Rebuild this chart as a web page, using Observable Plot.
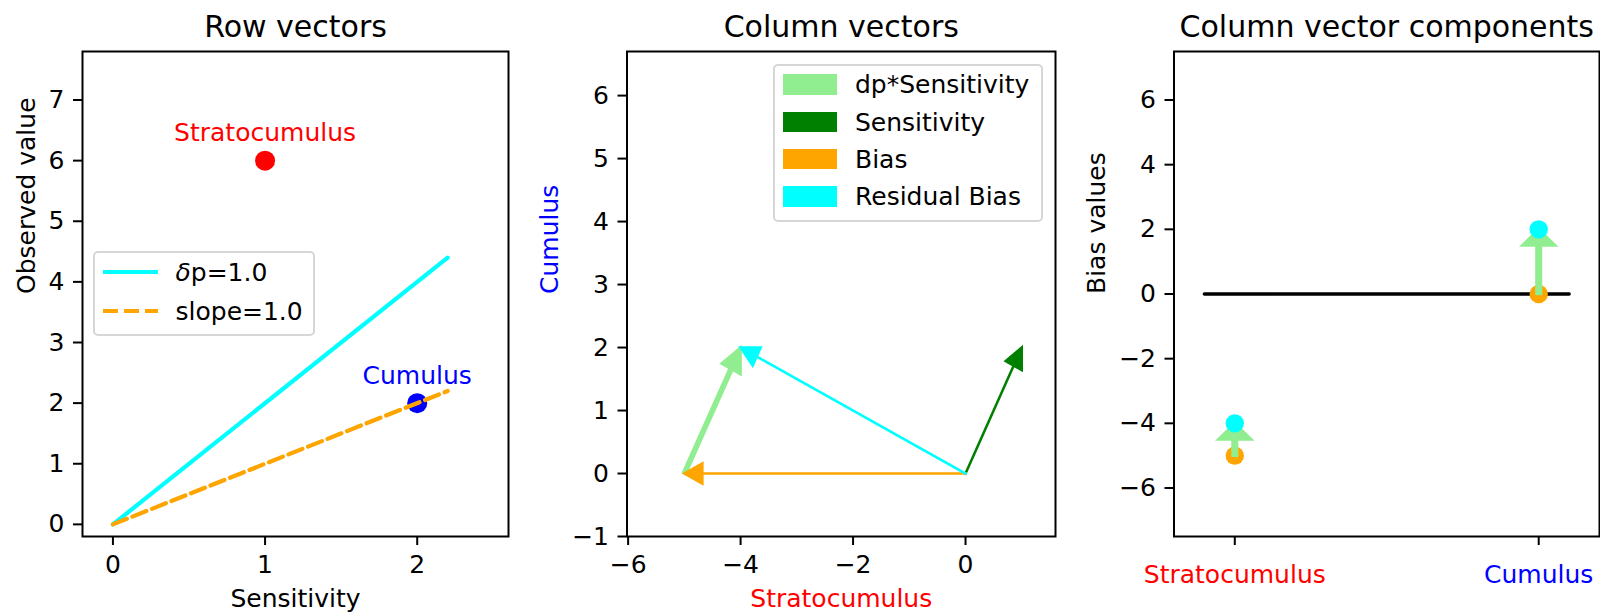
<!DOCTYPE html>
<html>
<head>
<meta charset="utf-8">
<script src="https://cdn.jsdelivr.net/npm/d3@7"></script>
<script src="https://cdn.jsdelivr.net/npm/@observablehq/plot@0.6"></script>
<style>
  html, body { margin: 0; padding: 0; background: #fff; }
  #root { position: relative; width: 1600px; height: 613px; overflow: hidden; font-family: "DejaVu Sans", sans-serif; color: #000; }
  .legend { position: absolute; box-sizing: border-box; border: 2px solid #d6d6d6; border-radius: 5px; background: rgba(255,255,255,0.8); }
  .lg-text { position: absolute; font-size: 25px; line-height: 25px; white-space: nowrap; }
  .lg-patch { position: absolute; }
  .lg-line { position: absolute; overflow: visible; }
</style>
</head>
<body>
<div id="root"></div>
<script>
// ---------------- DATA ----------------
// Panel 1: Row vectors
const cloudNames = ["Stratocumulus", "Cumulus"];
const cloudColors = ["red", "blue"];
const cloudSensitivity = [1, 2];
const cloudObserved = [6, 2];
const lineX = [0, 2.2];
const deltaPLineY = [0, 4.4];
const slopeLineY = [0, 2.2];
const p1XTicks = [0, 1, 2];
const p1YTicks = [0, 1, 2, 3, 4, 5, 6, 7];

// Panel 2: Column vectors (start point and components)
const vectorNames = ["dp*Sensitivity", "Sensitivity", "Bias", "Residual Bias"];
const vectorColors = ["lightgreen", "green", "orange", "cyan"];
const vectorStartX = [-5, 0, 0, 0];
const vectorStartY = [0, 0, 0, 0];
const vectorDX = [1, 1, -5, -4];
const vectorDY = [2, 2, 0, 2];
const p2XTicks = [-6, -4, -2, 0];
const p2YTicks = [-1, 0, 1, 2, 3, 4, 5, 6];

// Panel 3: Column vector components
const compCategories = ["Stratocumulus", "Cumulus"];
const compPositions = [0, 1];
const compBias = [-5, 0];
const compResidual = [-4, 2];
const compDpSensitivity = [1, 2];
const zeroLineX = [-0.1, 1.1];
const zeroLineY = [0, 0];
const p3YTicks = [-6, -4, -2, 0, 2, 4, 6];

// ---------------- STYLE ----------------
const W = 1600, H = 613;
const FRAME_TOP = 51, FRAME_BOTTOM = 536;
const panels = [
  {left: 82, right: 508},
  {left: 626.5, right: 1055},
  {left: 1173.5, right: 1599}
];
const vectorStyle = {
  "dp*Sensitivity": {width: 0.055, headWidth: 0.38, headLength: 0.38, lw: 2.5},
  "Sensitivity": {width: 0.001, headWidth: 0.32, headLength: 0.32, lw: 2.5},
  "Bias": {width: 0.001, headWidth: 0.32, headLength: 0.32, lw: 2.5},
  "Residual Bias": {width: 0.001, headWidth: 0.32, headLength: 0.32, lw: 2.5}
};
const compArrowStyle = {width: 0.015, headWidth: 0.11, headLength: 0.5, lw: 2.5};

function baseOpts(p) {
  return {
    width: W, height: H,
    marginLeft: p.left, marginRight: W - p.right,
    marginTop: FRAME_TOP, marginBottom: H - FRAME_BOTTOM,
    style: {
      fontFamily: "'DejaVu Sans', sans-serif", fontSize: "25px",
      background: "transparent", color: "black", overflow: "visible",
      position: "absolute", left: "0px", top: "0px"
    },
    color: {type: "identity"}
  };
}
const axisCommon = {tickSize: 9, strokeWidth: 2, fontSize: 25, label: null, tickFormat: d3.format("d")};

// FancyArrow-like polygon, computed in data coordinates (as matplotlib does)
function arrowPolygon(x0, y0, dx, dy, st) {
  const L = Math.hypot(dx, dy);
  const ux = dx / L, uy = dy / L;
  const px = -uy, py = ux;
  const s = L - st.headLength;
  const w = st.width / 2, hw = st.headWidth / 2;
  const pts = [[0, w], [s, w], [s, hw], [L, 0], [s, -hw], [s, -w], [0, -w], [0, w]];
  return pts.map(([a, b]) => ({x: x0 + a * ux + b * px, y: y0 + a * uy + b * py}));
}
function arrowMark(poly, color, lw) {
  return Plot.line(poly, {x: "x", y: "y", fill: color, stroke: color, strokeWidth: lw, strokeLinejoin: "miter", strokeMiterlimit: 10});
}

const root = document.getElementById("root");

// ---------------- PANEL 1 ----------------
const p1Points = cloudNames.map((name, i) => ({name, color: cloudColors[i], x: cloudSensitivity[i], y: cloudObserved[i]}));
const dpLine = lineX.map((x, i) => ({x, y: deltaPLineY[i]}));
const slopeLine = lineX.map((x, i) => ({x, y: slopeLineY[i]}));

root.appendChild(Plot.plot({
  ...baseOpts(panels[0]),
  x: {domain: [-0.2, 2.6]},
  y: {domain: [-0.2, 7.8]},
  marks: [
    Plot.dot(p1Points, {x: "x", y: "y", r: 10, fill: "color"}),
    Plot.line(dpLine, {x: "x", y: "y", stroke: "cyan", strokeWidth: 4.2}),
    Plot.line(slopeLine, {x: "x", y: "y", stroke: "orange", strokeWidth: 4.2, strokeDasharray: "15,6"}),
    Plot.text(p1Points, {x: "x", y: "y", text: "name", fill: "color", dy: -19.5, lineAnchor: "bottom", fontSize: 25}),
    Plot.axisX({ticks: p1XTicks, ...axisCommon, tickPadding: 10}),
    Plot.axisY({ticks: p1YTicks, ...axisCommon, tickPadding: 9}),
    Plot.frame({stroke: "black", strokeWidth: 2}),
    Plot.text(["Row vectors"], {text: d => d, frameAnchor: "top", dy: -15, lineAnchor: "bottom", fontSize: 30}),
    Plot.text(["Sensitivity"], {text: d => d, frameAnchor: "bottom", dy: 70, lineAnchor: "bottom", fontSize: 25}),
    Plot.text(["Observed value"], {text: d => d, frameAnchor: "left", dx: -48, rotate: -90, lineAnchor: "bottom", fontSize: 25})
  ]
}));

// ---------------- PANEL 2 ----------------
const p2Marks = vectorNames.map((name, i) => {
  const st = vectorStyle[name];
  return arrowMark(arrowPolygon(vectorStartX[i], vectorStartY[i], vectorDX[i], vectorDY[i], st), vectorColors[i], st.lw);
});
root.appendChild(Plot.plot({
  ...baseOpts(panels[1]),
  x: {domain: [-6.02, 1.6]},
  y: {domain: [-1, 6.7]},
  marks: [
    ...p2Marks,
    Plot.axisX({ticks: p2XTicks, ...axisCommon, tickPadding: 10}),
    Plot.axisY({ticks: p2YTicks, ...axisCommon, tickPadding: 9}),
    Plot.frame({stroke: "black", strokeWidth: 2}),
    Plot.text(["Column vectors"], {text: d => d, frameAnchor: "top", dy: -15, lineAnchor: "bottom", fontSize: 30}),
    Plot.text(["Stratocumulus"], {text: d => d, frameAnchor: "bottom", dy: 70, lineAnchor: "bottom", fontSize: 25, fill: "red"}),
    Plot.text(["Cumulus"], {text: d => d, frameAnchor: "left", dx: -69.5, rotate: -90, lineAnchor: "bottom", fontSize: 25, fill: "blue"})
  ]
}));

// ---------------- PANEL 3 ----------------
const p3Data = compCategories.map((name, i) => ({name, color: cloudColors[i], x: compPositions[i], bias: compBias[i], resid: compResidual[i], dp: compDpSensitivity[i]}));
const zeroLine = zeroLineX.map((x, i) => ({x, y: zeroLineY[i]}));
root.appendChild(Plot.plot({
  ...baseOpts(panels[2]),
  x: {domain: [-0.2, 1.2]},
  y: {domain: [-7.5, 7.5]},
  marks: [
    Plot.line(zeroLine, {x: "x", y: "y", stroke: "black", strokeWidth: 3.5}),
    Plot.dot(p3Data, {x: "x", y: "bias", r: 9.2, fill: "orange"}),
    ...p3Data.map(d => arrowMark(arrowPolygon(d.x, d.bias, 0, d.dp, compArrowStyle), "lightgreen", compArrowStyle.lw)),
    Plot.dot(p3Data, {x: "x", y: "resid", r: 9.2, fill: "cyan"}),
    Plot.axisX({ticks: compPositions, ...axisCommon, tickFormat: () => ""}),
    Plot.text(p3Data, {x: "x", text: "name", fill: "color", frameAnchor: "bottom", dy: 29, lineAnchor: "top", fontSize: 25}),
    Plot.axisY({ticks: p3YTicks, ...axisCommon, tickPadding: 9}),
    Plot.frame({stroke: "black", strokeWidth: 2}),
    Plot.text(["Column vector components"], {text: d => d, frameAnchor: "top", dy: -15, lineAnchor: "bottom", fontSize: 30}),
    Plot.text(["Bias values"], {text: d => d, frameAnchor: "left", dx: -68.7, rotate: -90, lineAnchor: "bottom", fontSize: 25})
  ]
}));

// ---------------- LEGENDS (HTML) ----------------
function addEl(tag, cls, css, html) {
  const e = document.createElement(tag);
  if (cls) e.className = cls;
  Object.assign(e.style, css);
  if (html != null) e.innerHTML = html;
  root.appendChild(e);
  return e;
}
// Panel 1 legend
addEl("div", "legend", {left: "93px", top: "251px", width: "222px", height: "85px"});
const p1Legend = [
  {label: '<span style="font-style:italic">δ</span>p=1.0', color: "cyan", dash: null, y: 271.7},
  {label: 'slope=1.0', color: "orange", dash: "15,6", y: 311}
];
p1Legend.forEach(it => {
  const svg = document.createElementNS("http://www.w3.org/2000/svg", "svg");
  svg.setAttribute("class", "lg-line");
  svg.setAttribute("width", "56"); svg.setAttribute("height", "10");
  Object.assign(svg.style, {left: "102.5px", top: (it.y - 5) + "px"});
  const ln = document.createElementNS("http://www.w3.org/2000/svg", "line");
  ln.setAttribute("x1", 0); ln.setAttribute("x2", 55); ln.setAttribute("y1", 5); ln.setAttribute("y2", 5);
  ln.setAttribute("stroke", it.color); ln.setAttribute("stroke-width", 4.2);
  if (it.dash) ln.setAttribute("stroke-dasharray", it.dash);
  svg.appendChild(ln);
  root.appendChild(svg);
  addEl("div", "lg-text", {left: "175.5px", top: (it.y - 12) + "px"}, it.label);
});
// Panel 2 legend
addEl("div", "legend", {left: "773px", top: "64px", width: "270px", height: "158px"});
const p2LegendY = [84.3, 122, 159.2, 196.3];
vectorNames.forEach((name, i) => {
  addEl("div", "lg-patch", {left: "782.5px", top: (p2LegendY[i] - 10.3) + "px", width: "54px", height: "20.6px", background: vectorColors[i]});
  addEl("div", "lg-text", {left: "855px", top: (p2LegendY[i] - 12) + "px"}, name);
});
</script>
</body>
</html>
